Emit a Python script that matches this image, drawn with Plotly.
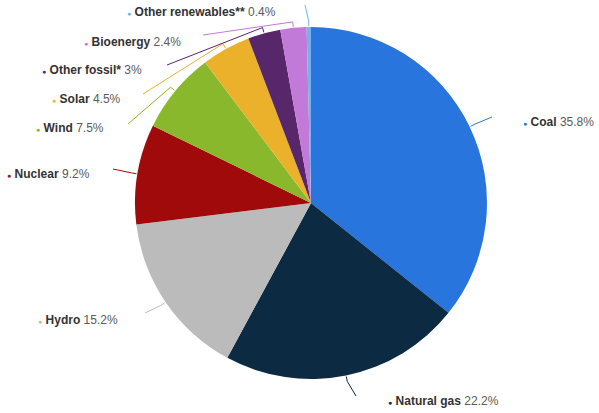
import math
import plotly.graph_objects as go

# ---- data ----
sources = ["Coal", "Natural gas", "Hydro", "Nuclear", "Wind", "Solar",
           "Other fossil*", "Bioenergy", "Other renewables**"]
shares = [35.8, 22.2, 15.2, 9.2, 7.5, 4.5, 3, 2.4, 0.4]
share_labels = ["35.8%", "22.2%", "15.2%", "9.2%", "7.5%", "4.5%", "3%", "2.4%", "0.4%"]

# ---- styles / layout positions ----
colors = ["#2876dd", "#0c2a41", "#bbbbbb", "#a10a0b", "#8ab82c", "#ecb12b",
          "#58266a", "#c27ad9", "#72b3ec"]
W, H = 599, 413
CX, CY, R = 311, 203, 176
# label bullet position (px) and connector end point (px)
label_pos = [(521, 122), (386, 401), (36, 320), (5, 174), (34, 128),
             (50, 99), (40, 70), (82, 42), (125, 12)]
conn_end = [(492, 117), (356, 396), (145, 313), (113, 169), (128, 124),
            (143, 94), (167, 65), (203, 35), (305, 5)]


def px(x):
    return x / W


def py(y):
    return 1 - y / H


fig = go.Figure(go.Pie(
    labels=sources, values=shares, sort=False, direction="clockwise",
    rotation=0, textinfo="none", hoverinfo="label+percent",
    marker=dict(colors=colors, line=dict(width=0)),
    domain=dict(x=[px(CX - R), px(CX + R)], y=[py(CY + R), py(CY - R)]),
    showlegend=False,
))

total = sum(shares)
cum = 0.0
shapes = []
annotations = []
for i, v in enumerate(shares):
    mid = (cum + v / 2) / total * 2 * math.pi
    cum += v
    sx, sy = math.sin(mid), -math.cos(mid)
    ax, ay = CX + (R + 1) * sx, CY + (R + 1) * sy
    bx, by = CX + (R + 6) * sx, CY + (R + 6) * sy
    ex, ey = conn_end[i]
    path = f"M {px(ax)},{py(ay)} L {px(bx)},{py(by)} L {px(ex)},{py(ey)}"
    shapes.append(dict(type="path", path=path, xref="paper", yref="paper",
                       line=dict(color=colors[i], width=1)))
    lx, ly = label_pos[i]
    txt = (f'<span style="color:{colors[i]};font-size:7px">●</span> '
           f'<b>{sources[i]}</b> '
           f'<span style="color:#5a5a5a">{share_labels[i]}</span>')
    annotations.append(dict(x=px(lx), y=py(ly), xref="paper", yref="paper",
                            xanchor="left", yanchor="middle", showarrow=False,
                            text=txt,
                            font=dict(family="Liberation Sans, Arial, sans-serif",
                                      size=12, color="#333333")))

fig.update_layout(
    width=W, height=H, margin=dict(l=0, r=0, t=0, b=0),
    paper_bgcolor="white", plot_bgcolor="white",
    shapes=shapes, annotations=annotations,
)

fig.write_html("out.html", config={"displayModeBar": False},
               post_script="document.body.style.margin='0';document.body.style.overflow='hidden';")
